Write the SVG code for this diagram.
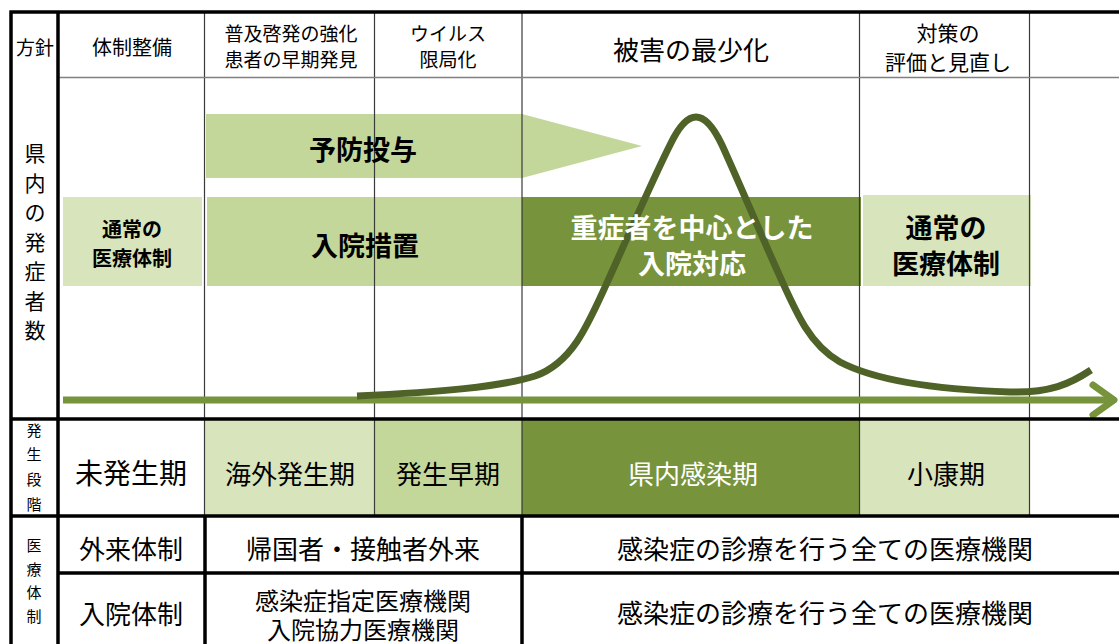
<svg xmlns="http://www.w3.org/2000/svg" width="1119" height="644" viewBox="0 0 1119 644">
<style>
text{font-family:"Noto Sans CJK JP","Noto Sans CJK SC",sans-serif;text-anchor:middle;dominant-baseline:central;fill:#000}
.b{font-weight:bold}
.w{fill:#fff}
.thin{stroke:#3a3a3a;stroke-width:1.2;fill:none}
.thick{stroke:#000;stroke-width:3.5;fill:none}
.light{fill:#d8e4bc}
.mid{fill:#c4d79b}
.dark{fill:#77933c}
</style>
<rect width="1119" height="644" fill="#fff"/>
<g id="stage-fills">
<rect class="light" x="205" y="419" width="170" height="97"/>
<rect class="mid" x="375" y="419" width="147" height="97"/>
<rect class="dark" x="522" y="419" width="338" height="97"/>
<rect class="light" x="860" y="419" width="170" height="97"/>
</g>
<g id="band-yobo">
<path class="mid" d="M206 114 H522 L642 146 L522 178 H206 Z"/>
</g>
<g id="band-tsujo-left"><rect class="light" x="63" y="197" width="139" height="89"/></g>
<g id="band-nyuin"><rect class="mid" x="207" y="197" width="315" height="89"/></g>
<g id="band-jusho"><rect class="dark" x="522" y="197" width="339" height="89"/></g>
<g id="band-tsujo-right"><rect class="light" x="863" y="195" width="168" height="91"/></g>
<g id="grid">
<path class="thin" d="M204.5 12 V516 M374.5 12 V516 M522 12 V516 M859.5 12 V516 M1029.5 12 V516"/>
<path d="M58 77.5 H1119" stroke="#808080" stroke-width="1.5"/>
</g>
<g id="connectors">
<path d="M63 400 H1112" stroke="#77933c" stroke-width="7" fill="none"/>
<path d="M1093 385 L1114 400 L1093 415" stroke="#77933c" stroke-width="7" fill="none" stroke-linecap="round" stroke-linejoin="round"/>
<path d="M357 396 C440 392,500 387,535 376 C575 362,590 320,615 265 C635 220,655 175,670 145 C680 124,688 117,696 117 C704 117,712 124,722 145 C737 178,757 225,777 270 C797 315,810 345,840 362 C880 383,950 390,1010 392 C1050 393,1070 384,1091 370" stroke="#4f6228" stroke-width="7" fill="none"/>
</g>
<g id="band-texts">
<text class="b" x="363" y="148" font-size="27">予防投与</text>
<text class="b" x="132" y="228" font-size="20">通常の</text>
<text class="b" x="132" y="257" font-size="20">医療体制</text>
<text class="b" x="365" y="244" font-size="27">入院措置</text>
<text class="b w" x="692" y="226" font-size="27">重症者を中心とした</text>
<text class="b w" x="692" y="262" font-size="27">入院対応</text>
<text class="b" x="946" y="226" font-size="27">通常の</text>
<text class="b" x="946" y="262" font-size="27">医療体制</text>
</g>
<g id="header">
<text x="35" y="46" font-size="19">方針</text>
<text x="132" y="46" font-size="20">体制整備</text>
<text x="291" y="32" font-size="19">普及啓発の強化</text>
<text x="291" y="58" font-size="19">患者の早期発見</text>
<text x="448" y="32" font-size="19">ウイルス</text>
<text x="448" y="58" font-size="19">限局化</text>
<text x="691" y="48" font-size="26">被害の最少化</text>
<text x="948" y="32" font-size="21">対策の</text>
<text x="948" y="61" font-size="21">評価と見直し</text>
</g>
<g id="yaxis-label" font-size="21">
<text x="35" y="152">県</text>
<text x="35" y="181.5">内</text>
<text x="35" y="211">の</text>
<text x="35" y="240.5">発</text>
<text x="35" y="270">症</text>
<text x="35" y="299.5">者</text>
<text x="35" y="329">数</text>
</g>
<g id="stage-row">
<text x="34" y="429" font-size="15">発</text>
<text x="34" y="453" font-size="15">生</text>
<text x="34" y="478" font-size="15">段</text>
<text x="34" y="503" font-size="15">階</text>
<text x="131" y="472" font-size="28">未発生期</text>
<text x="290" y="472" font-size="26">海外発生期</text>
<text x="448" y="472" font-size="26">発生早期</text>
<text class="w" x="693" y="472" font-size="26">県内感染期</text>
<text x="946" y="472" font-size="26">小康期</text>
</g>
<g id="medical-rows">
<text x="34" y="544" font-size="15">医</text>
<text x="34" y="568" font-size="15">療</text>
<text x="34" y="591" font-size="15">体</text>
<text x="34" y="615" font-size="15">制</text>
<text x="131" y="547" font-size="26">外来体制</text>
<text x="363" y="547" font-size="26">帰国者・接触者外来</text>
<text x="825" y="547" font-size="26">感染症の診療を行う全ての医療機関</text>
<text x="131" y="612" font-size="26">入院体制</text>
<text x="363" y="599" font-size="24">感染症指定医療機関</text>
<text x="363" y="628" font-size="24">入院協力医療機関</text>
<text x="825" y="611" font-size="26">感染症の診療を行う全ての医療機関</text>
</g>
<g id="frame">
<path class="thick" d="M9.5 12 H1119 M11 10.5 V644 M58 12 V644 M10 419 H1119 M10 516 H1119 M58 573 H1119 M205 516 V644 M522 516 V644"/>
</g>
</svg>
